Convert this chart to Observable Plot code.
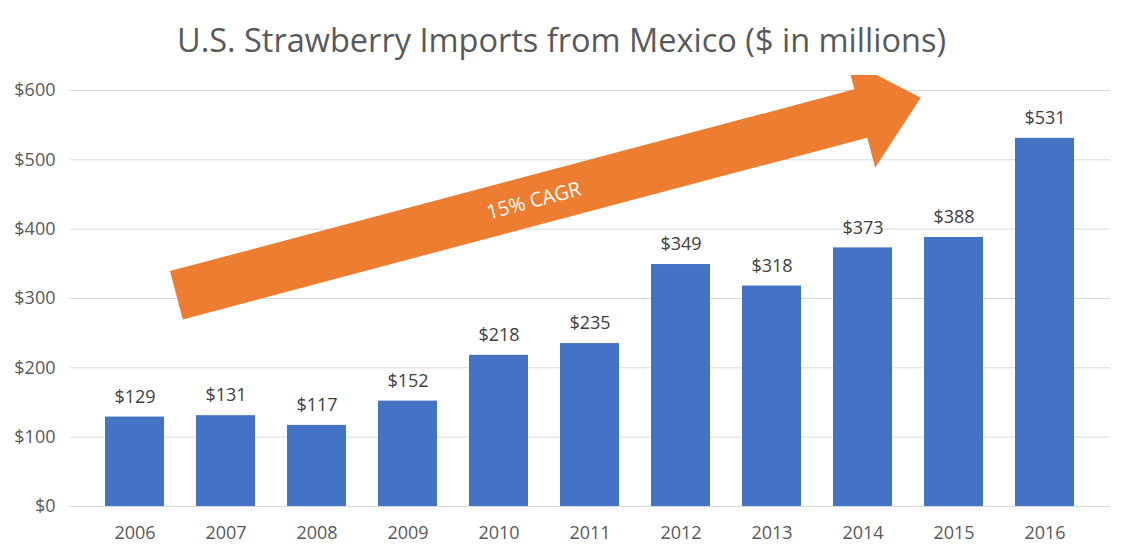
<!DOCTYPE html>
<html><head><meta charset="utf-8">
<script src="https://cdn.jsdelivr.net/npm/d3@7"></script>
<script src="https://cdn.jsdelivr.net/npm/@observablehq/plot@0.6"></script>
<style>
body{margin:0;background:#fff;font-family:"Open Sans",sans-serif;}
#title{height:75px;line-height:80px;text-align:center;font-size:32.5px;color:#595959;}
</style></head><body>
<div id="title">U.S. Strawberry Imports from Mexico ($ in millions)</div>
<div id="chart"></div>
<script>
const years = ["2006","2007","2008","2009","2010","2011","2012","2013","2014","2015","2016"];
const values = [129,131,117,152,218,235,349,318,373,388,531];
const yTicks = [0,100,200,300,400,500,600];
const arrowLabel = "15% CAGR";
const data = years.map((y,i)=>({year:y, value:values[i]}));

const val = v => typeof v === "function" ? v() : v;
const arrowMark = (index, scales, vals, dims) => {
  const bw = val(scales.x.bandwidth);
  const step = scales.x("2007") - scales.x("2006");
  const cx = y => scales.x(y) + bw/2;
  const x0 = cx("2006") + 0.46*step, y0 = scales.y(304);
  const x1 = cx("2015") - 0.36*step, y1 = scales.y(589);
  const dx = x1-x0, dy = y1-y0, L = Math.hypot(dx,dy);
  const ux = dx/L, uy = dy/L, px = -uy, py = ux;
  const hw = 25, hh = 56, hl = 62;
  const bx = x1 - ux*hl, by = y1 - uy*hl;
  const pts = [
    [x0+px*hw, y0+py*hw],[bx+px*hw, by+py*hw],[bx+px*hh, by+py*hh],[x1,y1],
    [bx-px*hh, by-py*hh],[bx-px*hw, by-py*hw],[x0-px*hw, y0-py*hw]];
  const g = d3.create("svg:g");
  g.append("path").attr("d","M"+pts.map(p=>p.join(",")).join("L")+"Z").attr("fill","#ED7D31");
  const tx = x0 + dx*0.48, ty = y0 + dy*0.48;
  g.append("text").attr("x",tx).attr("y",ty).attr("dy","0.35em").attr("text-anchor","middle")
    .attr("transform",`rotate(${Math.atan2(dy,dx)*180/Math.PI},${tx},${ty})`)
    .attr("fill","#fff").attr("font-size",20).text(arrowLabel);
  return g.node();
};

const chart = Plot.plot({
  width:1123, height:485,
  marginTop:15, marginBottom:54, marginLeft:70, marginRight:13,
  style:{fontFamily:"Open Sans, sans-serif", fontSize:"18px", color:"#595959"},
  x:{domain:years, padding:0.35, label:null},
  y:{domain:[0,600], label:null},
  marks:[
    Plot.gridY(yTicks,{stroke:"#d9d9d9", strokeOpacity:1}),
    Plot.barY(data,{x:"year", y:"value", fill:"#4472C4"}),
    Plot.text(data,{x:"year", y:"value", text:d=>"$"+d.value, dy:-20, fill:"#404040", fontSize:18}),
    Plot.axisX({tickSize:0, tickPadding:20, fontSize:18, label:null}),
    Plot.axisY({ticks:yTicks, tickSize:0, tickPadding:15, tickFormat:d=>"$"+d, fontSize:18, label:null}),
    arrowMark
  ]
});
document.getElementById("chart").append(chart);
</script></body></html>
